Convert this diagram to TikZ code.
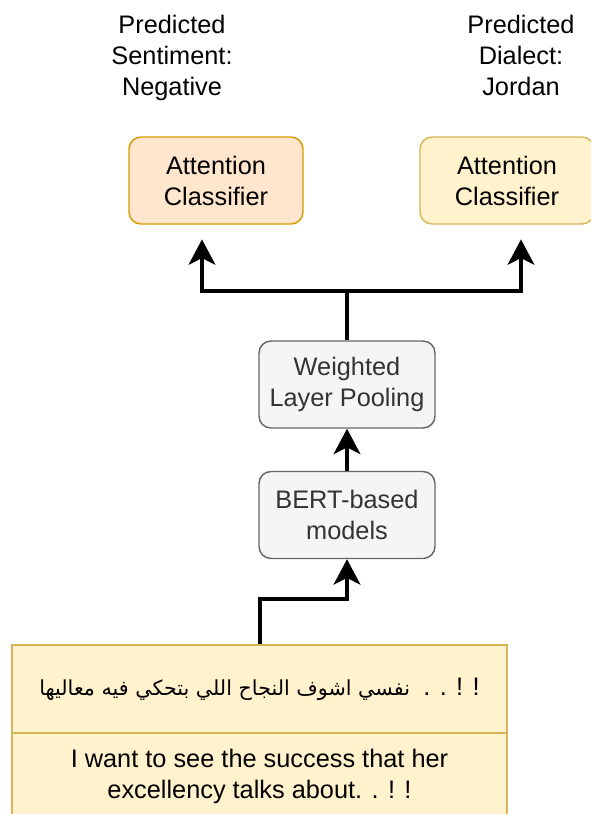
\documentclass[tikz,border=0pt]{standalone}
\usepackage{fontspec}
\setmainfont{Liberation Sans}
\newfontfamily\arabicfont[Script=Arabic]{DejaVu Sans}
\TeXXeTstate=1
\usetikzlibrary{arrows.meta}
\definecolor{orangefill}{HTML}{FFE6CC}
\definecolor{orangeline}{HTML}{D79B00}
\definecolor{yellowfill}{HTML}{FFF2CC}
\definecolor{yellowline}{HTML}{D6B656}
\definecolor{greyfill}{HTML}{F5F5F5}
\definecolor{greyline}{HTML}{666666}
\definecolor{greytext}{HTML}{333333}
\tikzset{>={Stealth[length=19pt,width=20pt,inset=5pt]}}
\tikzstyle{txt}=[font=\fontsize{19}{23.25}\selectfont,align=center,inner sep=0pt]
\tikzstyle{box}=[txt,draw,rounded corners=9pt,line width=1.1pt,minimum width=130.5pt,minimum height=65.25pt]
\tikzstyle{flow}=[->,line width=3pt,black]

\begin{document}
\begin{tikzpicture}[x=0.75pt,y=-0.75pt]
  \useasboundingbox (0,0) rectangle (591,814);

  % classifiers
  \node[box,fill=orangefill,draw=orangeline] (clsS) at (216,180.5) {Attention\\Classifier};
  \node[box,fill=yellowfill,draw=yellowline] (clsD) at (507,180.5) {Attention\\Classifier};

  % predictions
  \node[txt,anchor=north] (predS) at (172,15) {Predicted\\Sentiment:\\Negative};
  \node[txt,anchor=north] (predD) at (521,15) {Predicted\\Dialect:\\Jordan};

  % encoder
  \node[box,fill=greyfill,draw=greyline,text=greytext,minimum width=132pt] (pool) at (347,384.5) {Weighted\\Layer Pooling};
  \node[box,fill=greyfill,draw=greyline,text=greytext,minimum width=132pt] (bert) at (347,515) {BERT-based\\models};

  % input sentence
  \node[txt,draw=yellowline,fill=yellowfill,line width=1.1pt,minimum width=371.25pt,minimum height=66pt] (input) at (259.5,689)
    {{\fontsize{15.5}{18}\arabicfont\beginR نفسي اشوف النجاح اللي بتحكي فيه معاليها\endR}\hspace{10pt}. . ! !};
  \node[txt,draw=yellowline,fill=yellowfill,line width=1.1pt,minimum width=371.25pt,minimum height=64.5pt] (gloss) at (259.5,776)
    {I want to see the success that her\\excellency talks about. . ! !};

  % connectors
  \coordinate (split) at (347,291);
  \draw[flow] (input.north) -- ++(0,-45) -| (bert.south);
  \draw[flow] (bert.north) -- (pool.south);
  \draw[flow,shorten >=11pt] (pool.north) -- (split) -| ([xshift=-10.5pt]clsS.south);
  \draw[flow,shorten >=11pt] (split) -| ([xshift=10.5pt]clsD.south);

\end{tikzpicture}
\end{document}
